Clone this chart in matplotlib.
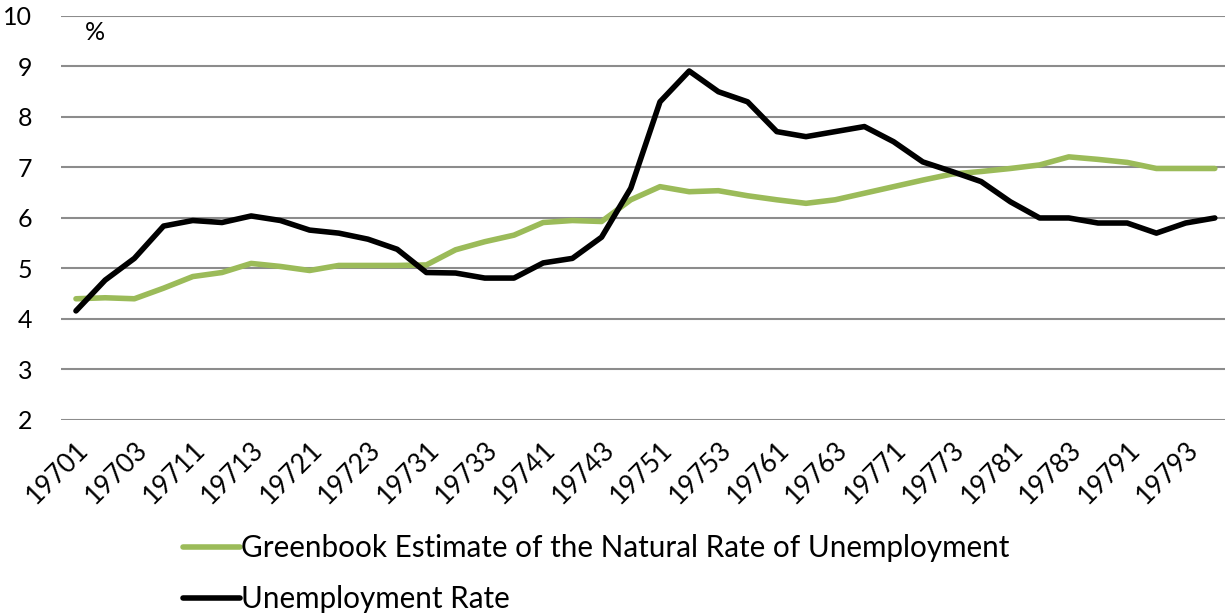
import numpy as np
import matplotlib.pyplot as plt

# quarters 1970Q1 .. 1979Q4
quarters = [f"{y}{q}" for y in range(1970, 1980) for q in range(1, 5)]

natural_rate = [4.40, 4.42, 4.40, 4.61, 4.84, 4.92, 5.10, 5.04, 4.96, 5.06,
                5.06, 5.06, 5.07, 5.37, 5.53, 5.66, 5.91, 5.95, 5.93, 6.36,
                6.62, 6.52, 6.54, 6.44, 6.36, 6.29, 6.36, 6.49, 6.62, 6.75,
                6.87, 6.92, 6.98, 7.05, 7.21, 7.16, 7.10, 6.98, 6.98, 6.98]

unemployment = [4.16, 4.77, 5.20, 5.84, 5.95, 5.91, 6.04, 5.95, 5.76, 5.70,
                5.58, 5.38, 4.92, 4.91, 4.81, 4.81, 5.11, 5.20, 5.62, 6.59,
                8.30, 8.91, 8.50, 8.30, 7.71, 7.61, 7.71, 7.81, 7.51, 7.11,
                6.92, 6.72, 6.32, 6.00, 6.00, 5.90, 5.90, 5.70, 5.90, 6.00]

plt.rcParams['font.family'] = ['Lato', 'DejaVu Sans']

fig = plt.figure(figsize=(12.25, 6.14), dpi=100)
ax = fig.add_axes([0.0501, 0.316, 0.9535, 0.658])

x = np.arange(len(quarters))
ax.plot(x, natural_rate, color='#9BBB59', lw=4, solid_capstyle='round',
        label='Greenbook Estimate of the Natural Rate of Unemployment')
ax.plot(x, unemployment, color='black', lw=4, solid_capstyle='round',
        label='Unemployment Rate')

ax.set_xlim(-0.5, len(quarters) - 0.5)
ax.set_ylim(2, 10)
ax.set_yticks(range(2, 11))
ax.set_xticks(x[::2])
ax.set_xticklabels(quarters[::2], rotation=45, ha='right', va='top',
                   rotation_mode='anchor', fontsize=19)
ax.tick_params(axis='y', labelsize=18, length=0, pad=21)
ax.tick_params(axis='x', length=0, pad=12)
ax.grid(axis='y', color='#8c8c8c', lw=1.5)
ax.set_axisbelow(True)
for s in ax.spines.values():
    s.set_visible(False)

ax.text(0.3, 9.68, '%', fontsize=18, va='center', ha='left')

fig.legend(loc='upper left', bbox_to_anchor=(0.149, 0.130), frameon=False,
           fontsize=21.3, handlelength=1.93, handletextpad=0.05,
           labelspacing=0.78, borderaxespad=0, borderpad=0)

fig.savefig('out.png', dpi=100)
